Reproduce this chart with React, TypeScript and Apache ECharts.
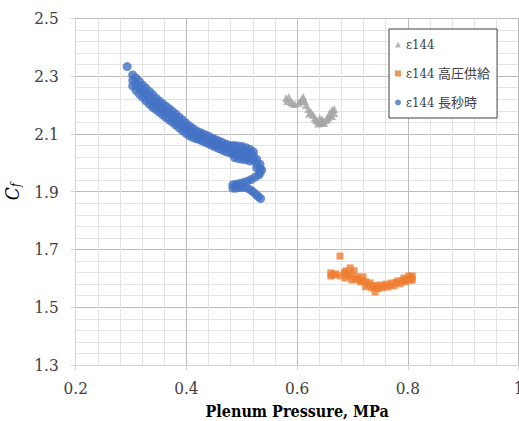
import React, { useEffect, useRef } from "react";
import * as echarts from "echarts";

// Axis ranges and tick spacing
const xMin = 0.2;
const xMax = 1;
const xStep = 0.2;
const yMin = 1.3;
const yMax = 2.5;
const yStep = 0.2;

const seriesNames = ["ε144", "ε144 高圧供給", "ε144 長秒時"];
const seriesColors = ["#A5A5A5", "#ED7D31", "#4472C4"];

// ε144 (gray triangles)
const e144: number[][] = [
  [0.580, 2.224], [0.585, 2.228], [0.582, 2.214], [0.589, 2.210], [0.592, 2.206],
  [0.596, 2.203], [0.603, 2.207], [0.606, 2.214], [0.609, 2.221], [0.611, 2.228],
  [0.614, 2.214], [0.616, 2.200], [0.620, 2.186], [0.622, 2.170], [0.625, 2.176],
  [0.629, 2.165], [0.632, 2.155], [0.634, 2.150], [0.636, 2.145], [0.641, 2.141],
  [0.641, 2.155], [0.638, 2.136], [0.644, 2.138], [0.645, 2.150], [0.647, 2.145],
  [0.649, 2.138], [0.652, 2.148], [0.655, 2.152], [0.656, 2.158], [0.659, 2.172],
  [0.660, 2.165], [0.663, 2.162], [0.663, 2.183], [0.667, 2.186], [0.667, 2.172],
];

// ε144 高圧供給 (orange squares)
const e144HighPressure: number[][] = [
  [0.6775, 1.677],
  [0.661, 1.619], [0.661, 1.608], [0.666, 1.612], [0.670, 1.615], [0.678, 1.608],
  [0.685, 1.619], [0.688, 1.626], [0.696, 1.636], [0.696, 1.615], [0.703, 1.626],
  [0.687, 1.601], [0.692, 1.608], [0.699, 1.594], [0.705, 1.598], [0.708, 1.605],
  [0.712, 1.596], [0.714, 1.588], [0.718, 1.592], [0.719, 1.605], [0.724, 1.588],
  [0.724, 1.571], [0.729, 1.577], [0.732, 1.584], [0.735, 1.567], [0.738, 1.574],
  [0.741, 1.553], [0.743, 1.574], [0.746, 1.565], [0.750, 1.577], [0.753, 1.567],
  [0.757, 1.572], [0.761, 1.580], [0.764, 1.570], [0.768, 1.577], [0.771, 1.584],
  [0.775, 1.574], [0.779, 1.586], [0.782, 1.591], [0.786, 1.581], [0.790, 1.592],
  [0.793, 1.601], [0.795, 1.588], [0.799, 1.596], [0.802, 1.608], [0.804, 1.594],
  [0.806, 1.601], [0.808, 1.608], [0.808, 1.594],
];

// ε144 長秒時 (blue circles); the first reading stands apart from the band
const e144LongDuration: number[][] = [
  [0.293, 2.333],
  [0.303, 2.304], [0.303, 2.285], [0.303, 2.266],
  [0.309, 2.293], [0.309, 2.272], [0.309, 2.251],
  [0.315, 2.281], [0.315, 2.260], [0.315, 2.238],
  [0.321, 2.269], [0.321, 2.248], [0.321, 2.226],
  [0.327, 2.258], [0.327, 2.237], [0.327, 2.214],
  [0.333, 2.247], [0.333, 2.226], [0.333, 2.203],
  [0.339, 2.236], [0.339, 2.215], [0.339, 2.192],
  [0.345, 2.224], [0.345, 2.205], [0.345, 2.184],
  [0.351, 2.214], [0.351, 2.196], [0.351, 2.175],
  [0.357, 2.205], [0.357, 2.187], [0.357, 2.166],
  [0.363, 2.196], [0.363, 2.178], [0.363, 2.157],
  [0.369, 2.187], [0.369, 2.169], [0.369, 2.148],
  [0.375, 2.178], [0.375, 2.160], [0.375, 2.140],
  [0.381, 2.168], [0.381, 2.150], [0.381, 2.130],
  [0.387, 2.158], [0.387, 2.140], [0.387, 2.121],
  [0.393, 2.148], [0.393, 2.130], [0.393, 2.111],
  [0.399, 2.138], [0.399, 2.120], [0.399, 2.102],
  [0.405, 2.128], [0.405, 2.111], [0.405, 2.094],
  [0.411, 2.120], [0.411, 2.104], [0.411, 2.088],
  [0.417, 2.112], [0.417, 2.098], [0.417, 2.084],
  [0.423, 2.106], [0.423, 2.093], [0.423, 2.080],
  [0.429, 2.101], [0.429, 2.088], [0.429, 2.075],
  [0.435, 2.096], [0.435, 2.083], [0.435, 2.070],
  [0.441, 2.091], [0.441, 2.078], [0.441, 2.065],
  [0.447, 2.085], [0.447, 2.072], [0.447, 2.059],
  [0.453, 2.080], [0.453, 2.067], [0.453, 2.054],
  [0.459, 2.075], [0.459, 2.062], [0.459, 2.049],
  [0.465, 2.070], [0.465, 2.057], [0.465, 2.044],
  [0.471, 2.065], [0.471, 2.052], [0.471, 2.039],
  [0.477, 2.061], [0.477, 2.048], [0.477, 2.035],
  [0.483, 2.058], [0.483, 2.045], [0.483, 2.032],
  [0.487, 2.060], [0.487, 2.045], [0.487, 2.030], [0.487, 2.018],
  [0.494, 2.058], [0.494, 2.043], [0.494, 2.028], [0.494, 2.014],
  [0.501, 2.056], [0.501, 2.041], [0.501, 2.026], [0.501, 2.012],
  [0.508, 2.052], [0.508, 2.038], [0.508, 2.024], [0.508, 2.010],
  [0.515, 2.046], [0.515, 2.032], [0.515, 2.018], [0.515, 2.006],
  [0.521, 2.038], [0.521, 2.024], [0.521, 2.010],
  [0.527, 2.012], [0.527, 1.997], [0.527, 1.982],
  [0.533, 1.995], [0.533, 1.980], [0.533, 1.966],
  [0.536, 1.975], [0.531, 1.958],
  [0.524, 1.950], [0.517, 1.942], [0.510, 1.936], [0.503, 1.932],
  [0.496, 1.928], [0.490, 1.926], [0.484, 1.924],
  [0.484, 1.912], [0.490, 1.912], [0.496, 1.914],
  [0.503, 1.915], [0.510, 1.912], [0.516, 1.906], [0.521, 1.898],
  [0.526, 1.890], [0.530, 1.883], [0.534, 1.876],
];

const serif = "DejaVu Serif Condensed";
const legendFont = "DejaVu Serif Condensed, Noto Sans CJK JP";

export default function App() {
  const ref = useRef<HTMLDivElement>(null);

  useEffect(() => {
    if (!ref.current) return;
    const chart = echarts.init(ref.current, undefined, { renderer: "svg" });

    const fmt = (v: number) => String(Number(v.toFixed(1)));

    chart.setOption({
      animation: false,
      backgroundColor: "#ffffff",
      grid: {
        left: 75.7,
        top: 18.3,
        right: 0.5,
        bottom: 56,
        containLabel: false,
        outerBoundsMode: "none",
      },
      legend: {
        orient: "vertical",
        left: 389,
        top: 29,
        padding: [8, 7, 8, 6],
        itemGap: 14,
        itemWidth: 6,
        itemHeight: 6,
        backgroundColor: "#ffffff",
        borderColor: "#404040",
        borderWidth: 1,
        borderRadius: 0,
        textStyle: {
          fontFamily: legendFont,
          fontSize: 13,
          lineHeight: 15,
          color: "#404040",
        },
        data: [
          { name: seriesNames[0], icon: "triangle" },
          { name: seriesNames[1], icon: "rect" },
          { name: seriesNames[2], icon: "circle" },
        ],
      },
      xAxis: {
        type: "value",
        min: xMin,
        max: xMax,
        interval: xStep,
        name: "Plenum Pressure, MPa",
        nameLocation: "middle",
        nameGap: 38,
        nameTextStyle: {
          fontFamily: serif,
          fontWeight: "bold",
          fontSize: 16,
          color: "#000000",
        },
        axisLine: { show: true, lineStyle: { color: "#d4d4d4", width: 1 } },
        axisTick: { show: true, length: 5, lineStyle: { color: "#d4d4d4" } },
        axisLabel: {
          margin: 14,
          fontFamily: serif,
          fontSize: 17,
          color: "#404040",
          formatter: fmt,
        },
        splitLine: { show: true, lineStyle: { color: "#bcbcbc", width: 1 } },
        minorTick: { show: false, splitNumber: 5 },
        minorSplitLine: { show: true, lineStyle: { color: "#e4e4e4", width: 1 } },
      },
      yAxis: {
        type: "value",
        min: yMin,
        max: yMax,
        interval: yStep,
        name: "{c|C}{s|f}",
        nameLocation: "middle",
        nameRotate: 90,
        nameGap: 54,
        nameTextStyle: {
          rich: {
            c: {
              fontFamily: serif,
              fontStyle: "italic",
              fontSize: 19,
              color: "#000000",
            },
            s: {
              fontFamily: serif,
              fontStyle: "italic",
              fontSize: 12,
              color: "#000000",
              verticalAlign: "bottom",
              padding: [6, 0, 0, 0],
            },
          },
        },
        axisLine: { show: true, lineStyle: { color: "#d4d4d4", width: 1 } },
        axisTick: { show: true, length: 5, lineStyle: { color: "#d4d4d4" } },
        axisLabel: {
          margin: 17,
          fontFamily: serif,
          fontSize: 17,
          color: "#404040",
          formatter: (v: number) => v.toFixed(1),
        },
        splitLine: { show: true, lineStyle: { color: "#bcbcbc", width: 1 } },
        minorTick: { show: false, splitNumber: 5 },
        minorSplitLine: { show: true, lineStyle: { color: "#e4e4e4", width: 1 } },
      },
      series: [
        {
          name: seriesNames[0],
          type: "scatter",
          symbol: "triangle",
          symbolSize: 8,
          itemStyle: { color: seriesColors[0] },
          data: e144,
        },
        {
          name: seriesNames[1],
          type: "scatter",
          symbol: "rect",
          symbolSize: 7,
          itemStyle: { color: seriesColors[1] },
          data: e144HighPressure,
        },
        {
          name: seriesNames[2],
          type: "scatter",
          symbol: "circle",
          symbolSize: 9,
          itemStyle: { color: seriesColors[2] },
          data: e144LongDuration,
        },
      ],
    });

    return () => chart.dispose();
  }, []);

  return (
    <div
      ref={ref}
      style={{ position: "fixed", left: 0, top: 0, width: 519, height: 421 }}
    />
  );
}
